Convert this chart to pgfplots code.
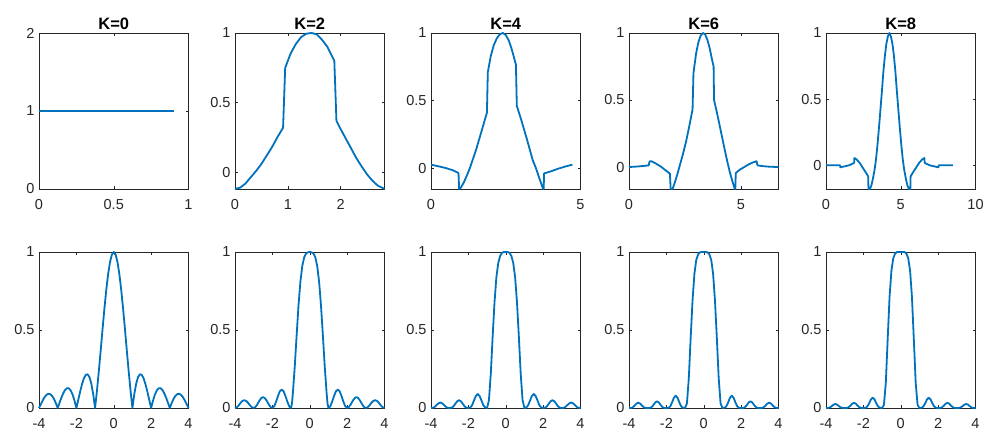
\documentclass[border=0pt]{standalone}
\usepackage{fontspec}
\setmainfont{Liberation Sans}
\usepackage{pgfplots}
\pgfplotsset{compat=1.18}
\definecolor{mblue}{rgb}{0,0.447,0.741}
\definecolor{axgray}{rgb}{0.15,0.15,0.15}

\pgfplotsset{
  panel/.style={
    scale only axis, width=149.5pt, height=156pt, anchor=south west,
    axis line style={draw=axgray, line width=0.5pt},
    tick style={draw=axgray, line width=0.5pt},
    tick align=inside, major tick length=3pt,
    tick label style={font=\fontsize{14.5}{15}\selectfont, text=axgray},
    xticklabel style={yshift=-7pt},
    yticklabel style={xshift=-1pt},
    title style={font=\bfseries\fontsize{16.5}{17}\selectfont, text=black, yshift=-6pt},
    clip=false,
  },
  curve/.style={draw=mblue, line width=1.8pt, line join=round, mark=none},
  toprow/.style={panel, at={(#1pt,246pt)}},
  botrow/.style={panel, at={(#1pt,27pt)}, xmin=-4, xmax=4, ymin=0, ymax=1,
    xtick={-4,-2,0,2,4}, xticklabels={-4,-2,0,2,4},
    ytick={0,0.5,1}, yticklabels={0,0.5,1}},
}

\begin{document}
\begin{tikzpicture}
\path[use as bounding box] (0,0) rectangle (991pt,435pt);

% ---------------- top row: time-domain kernels ----------------
\begin{axis}[toprow=39, title={K=0}, xmin=0, xmax=1, ymin=0, ymax=2,
  xtick={0,0.5,1}, xticklabels={0,0.5,1}, ytick={0,1,2}, yticklabels={0,1,2}]
\addplot[curve] coordinates {(0,1)(0.1,1)(0.2,1)(0.3,1)(0.4,1)(0.5,1)(0.6,1)(0.7,1)(0.8,1)(0.9,1)};
\end{axis}

\begin{axis}[toprow=235, title={K=2}, xmin=0, xmax=2.83, ymin=-0.12, ymax=1,
  xtick={0,1,2}, xticklabels={0,1,2}, ytick={0,0.5,1}, yticklabels={0,0.5,1}]
\addplot[curve] coordinates {(0,-0.12)(0.1,-0.11)(0.2,-0.08)(0.3,-0.035)(0.4,0.01)(0.5,0.06)(0.6,0.12)(0.7,0.18)(0.8,0.25)(0.91,0.32)
 (0.95,0.75)(1.05,0.85)(1.15,0.92)(1.25,0.97)(1.35,0.995)(1.45,1.0)(1.55,0.99)(1.65,0.95)(1.75,0.9)(1.88,0.80)
 (1.92,0.37)(2.0,0.31)(2.1,0.24)(2.2,0.17)(2.3,0.10)(2.4,0.04)(2.5,-0.015)(2.6,-0.06)(2.7,-0.095)(2.83,-0.12)};
\end{axis}

\begin{axis}[toprow=431, title={K=4}, xmin=0, xmax=5, ymin=-0.155, ymax=1,
  xtick={0,5}, xticklabels={0,5}, ytick={0,0.5,1}, yticklabels={0,0.5,1}]
\addplot[curve] coordinates {(0,0.025)(0.25,0.013)(0.5,0.0)(0.75,-0.018)(0.92,-0.037)(0.94,-0.155)(1.0,-0.145)(1.1,-0.105)(1.2,-0.055)(1.3,0.0)
 (1.5,0.13)(1.7,0.28)(1.87,0.41)(1.90,0.71)(2.0,0.83)(2.1,0.91)(2.2,0.96)(2.3,0.99)(2.4,1.0)(2.5,0.985)(2.6,0.945)(2.7,0.88)(2.84,0.765)
 (2.87,0.46)(3.0,0.37)(3.2,0.22)(3.4,0.06)(3.5,0.005)(3.6,-0.06)(3.7,-0.125)(3.75,-0.155)(3.77,-0.155)(3.78,-0.04)
 (4.0,-0.025)(4.25,-0.005)(4.5,0.012)(4.73,0.025)};
\end{axis}

\begin{axis}[toprow=629, title={K=6}, xmin=0, xmax=6.68, ymin=-0.164, ymax=1,
  xtick={0,5}, xticklabels={0,5}, ytick={0,0.5,1}, yticklabels={0,0.5,1}]
\addplot[curve] coordinates {(0,0)(0.4,0.004)(0.88,0.012)(0.92,0.042)(1.0,0.043)(1.2,0.026)(1.4,0.006)(1.6,-0.02)(1.83,-0.05)(1.86,-0.164)
 (1.95,-0.162)(2.05,-0.115)(2.15,-0.06)(2.25,0.0)(2.4,0.09)(2.55,0.19)(2.7,0.31)(2.84,0.43)(2.88,0.70)(3.0,0.85)(3.1,0.93)(3.2,0.98)
 (3.3,1.0)(3.4,0.99)(3.5,0.95)(3.6,0.89)(3.7,0.81)(3.78,0.75)(3.80,0.50)(3.95,0.39)(4.1,0.27)(4.25,0.15)(4.4,0.035)(4.5,-0.035)
 (4.6,-0.095)(4.7,-0.15)(4.73,-0.164)(4.75,-0.164)(4.77,-0.045)(4.95,-0.02)(5.15,0.0)(5.35,0.02)(5.55,0.035)(5.70,0.043)(5.74,0.012)
 (6.0,0.006)(6.3,0.002)(6.68,0.0)};
\end{axis}

\begin{axis}[toprow=826, title={K=8}, xmin=0, xmax=10, ymin=-0.179, ymax=1,
  xtick={0,5,10}, xticklabels={0,5,10}, ytick={0,0.5,1}, yticklabels={0,0.5,1}]
\addplot[curve] coordinates {(0,0)(0.94,0)(0.96,-0.015)(1.24,-0.008)(1.54,0.0)(1.88,0.018)(1.90,0.055)(2.04,0.045)(2.24,0.02)(2.44,-0.015)
 (2.64,-0.05)(2.82,-0.083)(2.84,-0.179)(2.94,-0.179)(3.04,-0.15)(3.14,-0.10)(3.24,-0.04)(3.34,0.04)(3.44,0.15)(3.54,0.28)(3.64,0.42)
 (3.74,0.56)(3.84,0.71)(3.94,0.83)(4.04,0.92)(4.14,0.975)(4.24,1.0)(4.34,0.975)(4.44,0.92)(4.54,0.83)(4.64,0.71)(4.74,0.56)(4.84,0.42)
 (4.94,0.28)(5.04,0.15)(5.14,0.04)(5.24,-0.04)(5.34,-0.10)(5.44,-0.15)(5.54,-0.179)(5.64,-0.179)(5.66,-0.083)(5.84,-0.05)(6.04,-0.015)
 (6.24,0.02)(6.44,0.045)(6.58,0.055)(6.60,0.018)(6.94,0.0)(7.24,-0.008)(7.52,-0.015)(7.54,0)(8.48,0)};
\end{axis}

% ---------------- bottom row: magnitude responses ----------------
\begin{axis}[botrow=39]
\addplot[curve] coordinates {(-4,0)(-3.9,0.0252)(-3.8,0.0492)(-3.7,0.0696)(-3.6,0.0841)(-3.5,0.0910)(-3.4,0.0890)(-3.3,0.0780)(-3.2,0.0585)(-3.1,0.0317)
 (-3,0)(-2.9,0.0339)(-2.8,0.0668)(-2.7,0.0954)(-2.6,0.1164)(-2.5,0.1273)(-2.4,0.1261)(-2.3,0.1120)(-2.2,0.0851)(-2.1,0.0468)
 (-2,0)(-1.9,0.0518)(-1.8,0.1039)(-1.7,0.1515)(-1.6,0.1892)(-1.5,0.2122)(-1.4,0.2162)(-1.3,0.1981)(-1.2,0.1559)(-1.1,0.0894)
 (-1,0)(-0.9,0.1093)(-0.8,0.2339)(-0.7,0.3679)(-0.6,0.5046)(-0.5,0.6366)(-0.4,0.7568)(-0.3,0.8584)(-0.2,0.9355)(-0.1,0.9836)
 (0,1)(0.1,0.9836)(0.2,0.9355)(0.3,0.8584)(0.4,0.7568)(0.5,0.6366)(0.6,0.5046)(0.7,0.3679)(0.8,0.2339)(0.9,0.1093)
 (1,0)(1.1,0.0894)(1.2,0.1559)(1.3,0.1981)(1.4,0.2162)(1.5,0.2122)(1.6,0.1892)(1.7,0.1515)(1.8,0.1039)(1.9,0.0518)
 (2,0)(2.1,0.0468)(2.2,0.0851)(2.3,0.1120)(2.4,0.1261)(2.5,0.1273)(2.6,0.1164)(2.7,0.0954)(2.8,0.0668)(2.9,0.0339)
 (3,0)(3.1,0.0317)(3.2,0.0585)(3.3,0.0780)(3.4,0.0890)(3.5,0.0910)(3.6,0.0841)(3.7,0.0696)(3.8,0.0492)(3.9,0.0252)(4,0)};
\end{axis}

\begin{axis}[botrow=235]
\addplot[curve] coordinates {(-4,0)(-3.9,0.005)(-3.8,0.017)(-3.7,0.033)(-3.6,0.045)(-3.5,0.05)(-3.4,0.045)(-3.3,0.033)(-3.2,0.017)(-3.1,0.005)
 (-3,0)(-2.9,0.007)(-2.8,0.024)(-2.7,0.046)(-2.6,0.063)(-2.5,0.07)(-2.4,0.063)(-2.3,0.046)(-2.2,0.024)(-2.1,0.007)
 (-2,0)(-1.9,0.011)(-1.8,0.041)(-1.7,0.077)(-1.6,0.107)(-1.5,0.118)(-1.4,0.107)(-1.3,0.077)(-1.2,0.041)(-1.1,0.011)
 (-1,0)(-0.95,0.03)(-0.9,0.10)(-0.8,0.27)(-0.7,0.47)(-0.6,0.66)(-0.5,0.81)(-0.4,0.91)(-0.3,0.965)(-0.2,0.99)(-0.1,0.998)
 (0,1)(0.1,0.998)(0.2,0.99)(0.3,0.965)(0.4,0.91)(0.5,0.81)(0.6,0.66)(0.7,0.47)(0.8,0.27)(0.9,0.10)(0.95,0.03)
 (1,0)(1.1,0.011)(1.2,0.041)(1.3,0.077)(1.4,0.107)(1.5,0.118)(1.6,0.107)(1.7,0.077)(1.8,0.041)(1.9,0.011)
 (2,0)(2.1,0.007)(2.2,0.024)(2.3,0.046)(2.4,0.063)(2.5,0.07)(2.6,0.063)(2.7,0.046)(2.8,0.024)(2.9,0.007)
 (3,0)(3.1,0.005)(3.2,0.017)(3.3,0.033)(3.4,0.045)(3.5,0.05)(3.6,0.045)(3.7,0.033)(3.8,0.017)(3.9,0.005)(4,0)};
\end{axis}

\begin{axis}[botrow=431]
\addplot[curve] coordinates {(-4,0)(-3.9,0.001)(-3.8,0.007)(-3.7,0.019)(-3.6,0.030)(-3.5,0.035)(-3.4,0.030)(-3.3,0.019)(-3.2,0.007)(-3.1,0.001)
 (-3,0)(-2.9,0.002)(-2.8,0.010)(-2.7,0.027)(-2.6,0.043)(-2.5,0.05)(-2.4,0.043)(-2.3,0.027)(-2.2,0.010)(-2.1,0.002)
 (-2,0)(-1.9,0.003)(-1.8,0.018)(-1.7,0.048)(-1.6,0.077)(-1.5,0.09)(-1.4,0.077)(-1.3,0.048)(-1.2,0.018)(-1.1,0.003)
 (-1,0)(-0.9,0.05)(-0.8,0.22)(-0.7,0.46)(-0.6,0.68)(-0.5,0.84)(-0.4,0.93)(-0.3,0.975)(-0.2,0.995)(-0.1,1)
 (0,1)(0.1,1)(0.2,0.995)(0.3,0.975)(0.4,0.93)(0.5,0.84)(0.6,0.68)(0.7,0.46)(0.8,0.22)(0.9,0.05)
 (1,0)(1.1,0.003)(1.2,0.018)(1.3,0.048)(1.4,0.077)(1.5,0.09)(1.6,0.077)(1.7,0.048)(1.8,0.018)(1.9,0.003)
 (2,0)(2.1,0.002)(2.2,0.010)(2.3,0.027)(2.4,0.043)(2.5,0.05)(2.6,0.043)(2.7,0.027)(2.8,0.010)(2.9,0.002)
 (3,0)(3.1,0.001)(3.2,0.007)(3.3,0.019)(3.4,0.030)(3.5,0.035)(3.6,0.030)(3.7,0.019)(3.8,0.007)(3.9,0.001)(4,0)};
\end{axis}

\begin{axis}[botrow=629]
\addplot[curve] coordinates {(-4,0)(-3.9,0)(-3.8,0.004)(-3.7,0.015)(-3.6,0.028)(-3.5,0.034)(-3.4,0.028)(-3.3,0.015)(-3.2,0.004)(-3.1,0)
 (-3,0)(-2.9,0)(-2.8,0.005)(-2.7,0.018)(-2.6,0.035)(-2.5,0.043)(-2.4,0.035)(-2.3,0.018)(-2.2,0.005)(-2.1,0)
 (-2,0)(-1.9,0.001)(-1.8,0.009)(-1.7,0.034)(-1.6,0.065)(-1.5,0.079)(-1.4,0.065)(-1.3,0.034)(-1.2,0.009)(-1.1,0.001)
 (-1,0)(-0.9,0.03)(-0.8,0.19)(-0.7,0.45)(-0.6,0.69)(-0.5,0.86)(-0.4,0.95)(-0.3,0.985)(-0.2,0.998)(-0.1,1)
 (0,1)(0.1,1)(0.2,0.998)(0.3,0.985)(0.4,0.95)(0.5,0.86)(0.6,0.69)(0.7,0.45)(0.8,0.19)(0.9,0.03)
 (1,0)(1.1,0.001)(1.2,0.009)(1.3,0.034)(1.4,0.065)(1.5,0.079)(1.6,0.065)(1.7,0.034)(1.8,0.009)(1.9,0.001)
 (2,0)(2.1,0)(2.2,0.005)(2.3,0.018)(2.4,0.035)(2.5,0.043)(2.6,0.035)(2.7,0.018)(2.8,0.005)(2.9,0)
 (3,0)(3.1,0)(3.2,0.004)(3.3,0.015)(3.4,0.028)(3.5,0.034)(3.6,0.028)(3.7,0.015)(3.8,0.004)(3.9,0)(4,0)};
\end{axis}

\begin{axis}[botrow=826]
\addplot[curve] coordinates {(-4,0)(-3.9,0)(-3.8,0.003)(-3.7,0.011)(-3.6,0.021)(-3.5,0.026)(-3.4,0.021)(-3.3,0.011)(-3.2,0.003)(-3.1,0)
 (-3,0)(-2.9,0)(-2.8,0.004)(-2.7,0.014)(-2.6,0.027)(-2.5,0.033)(-2.4,0.027)(-2.3,0.014)(-2.2,0.004)(-2.1,0)
 (-2,0)(-1.9,0.001)(-1.8,0.008)(-1.7,0.028)(-1.6,0.054)(-1.5,0.066)(-1.4,0.054)(-1.3,0.028)(-1.2,0.008)(-1.1,0.001)
 (-1,0)(-0.9,0.02)(-0.8,0.16)(-0.7,0.44)(-0.6,0.71)(-0.5,0.88)(-0.4,0.96)(-0.3,0.99)(-0.2,1)(-0.1,1)
 (0,1)(0.1,1)(0.2,1)(0.3,0.99)(0.4,0.96)(0.5,0.88)(0.6,0.71)(0.7,0.44)(0.8,0.16)(0.9,0.02)
 (1,0)(1.1,0.001)(1.2,0.008)(1.3,0.028)(1.4,0.054)(1.5,0.066)(1.6,0.054)(1.7,0.028)(1.8,0.008)(1.9,0.001)
 (2,0)(2.1,0)(2.2,0.004)(2.3,0.014)(2.4,0.027)(2.5,0.033)(2.6,0.027)(2.7,0.014)(2.8,0.004)(2.9,0)
 (3,0)(3.1,0)(3.2,0.003)(3.3,0.011)(3.4,0.021)(3.5,0.026)(3.6,0.021)(3.7,0.011)(3.8,0.003)(3.9,0)(4,0)};
\end{axis}
\end{tikzpicture}
\end{document}
